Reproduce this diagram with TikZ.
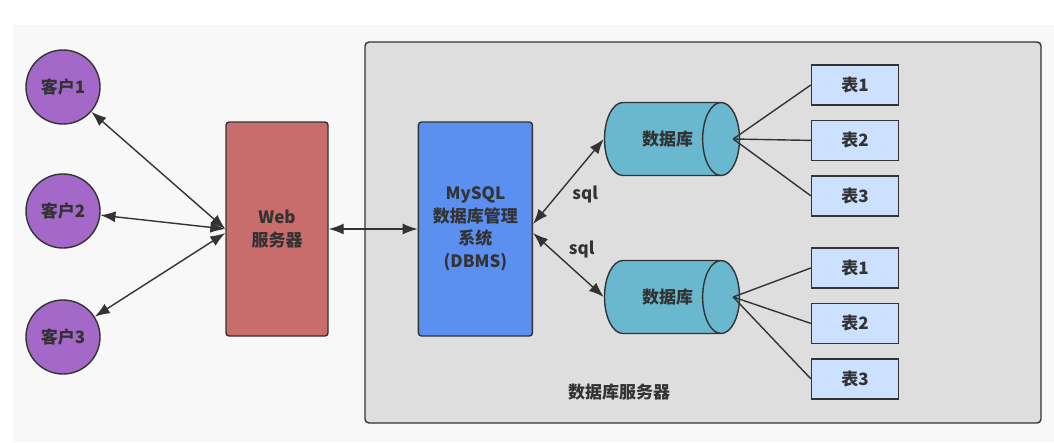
\documentclass[tikz,border=0pt]{standalone}
\usepackage{fontspec}
\setmainfont{Noto Sans CJK SC}
\usetikzlibrary{shapes.geometric, arrows.meta, positioning, calc}
\usepackage{xcolor}
\definecolor{pagecolor}{RGB}{248,248,248}
\definecolor{servercolor}{RGB}{222,222,222}
\definecolor{clientcolor}{RGB}{164,104,200}
\definecolor{webcolor}{RGB}{200,108,108}
\definecolor{dbmscolor}{RGB}{91,143,240}
\definecolor{dbcolor}{RGB}{106,183,208}
\definecolor{tablecolor}{RGB}{204,224,255}
\definecolor{boxborder}{RGB}{51,51,51}
\tikzset{
    label text/.style={font=\bfseries\fontsize{17}{22.5}\selectfont, text=boxborder},
    client/.style={circle, draw=boxborder, line width=1.4pt, fill=clientcolor,
        minimum size=74pt, inner sep=0pt, label text},
    block/.style={rectangle, draw=boxborder, rounded corners=3pt, line width=1.4pt,
        minimum height=214pt, align=center, label text},
    dbnode/.style={cylinder, shape border rotate=0, aspect=1.6, draw=boxborder,
        line width=1.4pt, fill=dbcolor, minimum height=135pt, minimum width=73pt,
        anchor=shape center, label text},
    tablebox/.style={rectangle, draw=boxborder, line width=1.4pt, fill=tablecolor,
        minimum width=87pt, minimum height=40pt, label text},
    serverbox/.style={rectangle, draw=boxborder, rounded corners=4pt, line width=1.4pt,
        fill=servercolor, minimum width=676pt, minimum height=381pt},
    arrow/.style={{Latex[length=15pt,width=11pt]}-{Latex[length=15pt,width=11pt]},
        line width=1.4pt, draw=boxborder},
    link/.style={line width=1.4pt, draw=boxborder}
}
\newcommand{\dbtext}[1]{\hspace*{18pt}#1}

\begin{document}
\begin{tikzpicture}[x=1pt, y=-1pt, node distance=14pt]

    \useasboundingbox (0,0) rectangle (1054,442);
    \fill[pagecolor] (13,25) rectangle (1054,442);

    \node[serverbox] (server) at (703,232.5) {};
    \node[label text] (serverlabel) at (619,392) {数据库服务器};

    \node[client] (cli1) at (63,87) {客户1};
    \node[client] (cli2) at (63,211) {客户2};
    \node[client] (cli3) at (63,337) {客户3};

    \node[block, fill=webcolor, minimum width=102pt] (web) at (277,229) {Web\\服务器};
    \node[block, fill=dbmscolor, minimum width=114pt, right=89pt of web] (dbms) {MySQL\\数据库管理\\系统\\(DBMS)};

    \node[dbnode] (db1) at (672,139) {\dbtext{数据库}};
    \node[dbnode] (db2) at (672,297) {\dbtext{数据库}};

    \node[tablebox] (tbl11) at (855,85) {表1};
    \node[tablebox, below=of tbl11] (tbl12) {表2};
    \node[tablebox, below=of tbl12] (tbl13) {表3};
    \node[tablebox] (tbl21) at (855,268) {表1};
    \node[tablebox, below=of tbl21] (tbl22) {表2};
    \node[tablebox, below=of tbl22] (tbl23) {表3};

    \coordinate (hub1) at ([xshift=-7pt]db1.east);
    \coordinate (hub2) at ([xshift=-7pt]db2.east);

    \draw[arrow] (cli1) -- (web.west);
    \draw[arrow] (cli2) -- (web.west);
    \draw[arrow] (cli3) -- ([yshift=-4pt]web.west);
    \draw[arrow] (web) -- (dbms);
    \draw[arrow] ([yshift=5pt]dbms.east) -- node[below right, label text, pos=0.5]{sql} (db1.west);
    \draw[arrow] ([yshift=-4pt]dbms.east) -- node[above right, label text, pos=0.45]{sql} (db2.west);

    \draw[link] (hub1) -- (tbl11.west);
    \draw[link] (hub1) -- (tbl12.west);
    \draw[link] (hub1) -- (tbl13.west);
    \draw[link] (hub2) -- (tbl21.west);
    \draw[link] (hub2) -- (tbl22.west);
    \draw[link] (hub2) -- (tbl23.west);

\end{tikzpicture}
\end{document}
